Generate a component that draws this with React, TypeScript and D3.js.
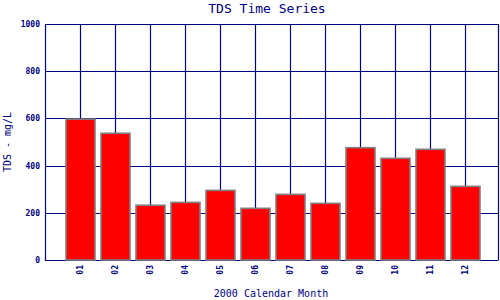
import React from "react";
import * as d3 from "d3";

const months = ["01", "02", "03", "04", "05", "06", "07", "08", "09", "10", "11", "12"];
const tds = [597, 537, 232, 244, 295, 219, 278, 240, 476, 431, 469, 312];
const yTicks = [0, 200, 400, 600, 800, 1000];

const W = 500, H = 300;
const L = 45, R = 498, T = 24, B = 260;
const NAVY = "#000080";
const MONO = "'DejaVu Sans Mono', 'Liberation Mono', monospace";

export default function App() {
  const x = d3.scaleBand<string>().domain(months).range([62.5, 482.5]);
  const y = d3.scaleLinear().domain([0, 1000]).range([B, T]);
  const cx = (m: string) => (x(m) as number) + x.bandwidth() / 2;
  const barW = 29;

  return (
    <svg width={W} height={H} style={{ position: "absolute", left: 0, top: 0, background: "#fff" }}>
      <rect x={0} y={0} width={W} height={H} fill="#fff" />
      <text x={267} y={13} textAnchor="middle" fontFamily={MONO} fontSize={13} fill={NAVY}>
        TDS Time Series
      </text>
      {/* grid */}
      {yTicks.map((t) => (
        <line key={"h" + t} x1={L} x2={R} y1={Math.round(y(t)) + 0.5} y2={Math.round(y(t)) + 0.5} stroke={NAVY} strokeWidth={1.2} />
      ))}
      {months.map((m) => (
        <line key={"v" + m} x1={Math.round(cx(m)) + 0.5} x2={Math.round(cx(m)) + 0.5} y1={T} y2={B} stroke={NAVY} strokeWidth={1.2} />
      ))}
      <line x1={L + 0.5} x2={L + 0.5} y1={T} y2={B + 0.5} stroke={NAVY} strokeWidth={1.2} />
      <line x1={R + 0.5} x2={R + 0.5} y1={T} y2={B + 0.5} stroke={NAVY} strokeWidth={1.2} />
      {/* bars */}
      {months.map((m, i) => (
        <rect
          key={"b" + m}
          x={cx(m) - barW / 2 + 0.5}
          y={y(tds[i])}
          width={barW}
          height={B - y(tds[i])}
          fill="#ff0000"
          stroke="#808080"
          strokeWidth={1.6}
        />
      ))}
      {/* y tick labels */}
      {yTicks.map((t) => (
        <text key={"yl" + t} x={40} y={y(t) + 3} textAnchor="end" fontFamily={MONO} fontSize={8} fontWeight="bold" fill={NAVY}>
          {t}
        </text>
      ))}
      {/* x tick labels */}
      {months.map((m) => (
        <text
          key={"xl" + m}
          transform={`translate(${cx(m) + 3},265) rotate(-90)`}
          textAnchor="end"
          fontFamily={MONO}
          fontSize={8}
          fontWeight="bold"
          fill={NAVY}
        >
          {m}
        </text>
      ))}
      <text x={271} y={297} textAnchor="middle" fontFamily={MONO} fontSize={10} fill={NAVY}>
        2000 Calendar Month
      </text>
      <text transform={`translate(11,${(T + B) / 2}) rotate(-90)`} textAnchor="middle" fontFamily={MONO} fontSize={10} fill={NAVY}>
        TDS - mg/L
      </text>
    </svg>
  );
}
